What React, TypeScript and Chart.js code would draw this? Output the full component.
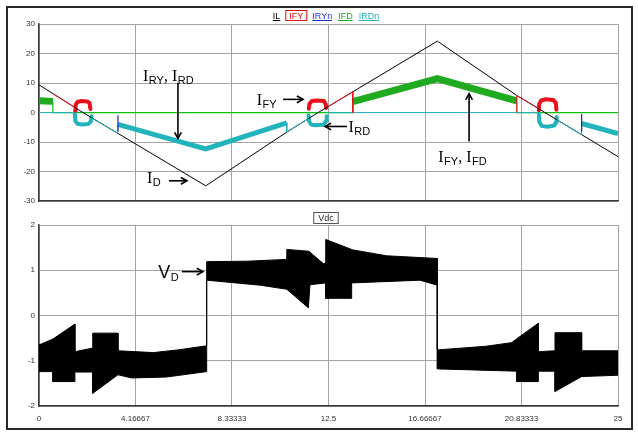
import React, { useEffect, useRef } from "react";
import { Chart, registerables } from "chart.js";
Chart.register(...registerables);

const SANS = "'Liberation Sans', Arial, sans-serif";
const SERIF = "'Liberation Serif', 'Times New Roman', serif";

// ---- axes ----
const xTickVals = [0, 4.16667, 8.33333, 12.5, 16.66667, 20.83333, 25];
const xTickLabels = ["0", "4.16667", "8.33333", "12.5", "16.66667", "20.83333", "25"];
const topYTicks = [-30, -20, -10, 0, 10, 20, 30];
const botYTicks = [-2, -1, 0, 1, 2];

// ---- top panel series: [time, value]; null value = break ----
const IL = [[0, 9.4], [1.9, 0], [3.4, -7.0], [7.2, -24.8], [10.7, -6.6], [12.05, 0], [17.2, 24.2], [20.63, 5.8], [21.85, 0], [25, -14.9]];
const IFY_thin = [[0.6, 6.4], [1.54, 1.8], [1.54, null], [12.45, 1.9], [13.55, 7.0], [13.55, 0], [13.55, null], [20.63, 0], [20.63, 5.8], [21.55, 1.5]];
const IFY_blob1 = [[1.56, 0.6], [1.58, 2.6], [1.66, 3.6], [1.8, 3.9], [2.08, 3.8], [2.18, 3.3], [2.22, 1.2]];
const IFY_blob2 = [[11.65, 1.3], [11.68, 3.0], [11.78, 3.9], [12.0, 4.1], [12.3, 3.9], [12.38, 2.8], [12.4, 1.6]];
const IFY_blob3 = [[21.58, 0.8], [21.6, 3.0], [21.7, 4.2], [21.9, 4.5], [22.2, 4.3], [22.32, 3.2], [22.34, 1.0]];
const IRD_blob1 = [[1.55, -0.5], [1.57, -2.8], [1.66, -3.8], [1.85, -4.0], [2.12, -3.9], [2.24, -3.0], [2.27, -1.2]];
const IRD_blob2 = [[11.64, -0.9], [11.66, -3.0], [11.76, -4.1], [12.0, -4.3], [12.3, -4.0], [12.4, -2.8], [12.42, -1.2]];
const IRD_blob3 = [[21.58, -0.4], [21.6, -3.0], [21.7, -4.5], [21.95, -4.8], [22.25, -4.4], [22.33, -3.2], [22.35, -1.5]];
const IRD_thin = [[0, 0], [1.55, 0], [1.55, null], [2.27, -1.8], [3.4, -7.0], [3.4, -4.0], [3.4, null], [10.7, -3.45], [10.7, -6.6], [11.64, -2.0], [11.64, null], [12.42, 0], [21.58, 0], [21.58, null], [22.35, -2.4], [23.43, -7.5], [23.43, -3.7]];
const IRD_band = [[3.4, -4.0], [7.2, -12.3], [10.7, -3.45], [10.7, null], [23.43, -3.7], [25, -7.1]];
const IFD_band = [[0, 4.0], [0.6, 3.8], [0.6, null], [13.55, 3.7], [17.2, 11.5], [20.63, 4.0]];
const IFD_thin = [[0.6, 3.8], [0.6, 0], [13.55, 0], [13.55, 3.7], [13.55, null], [20.63, 4.0], [20.63, 0], [25, 0]];
const IRY_thin = [[3.41, -0.9], [3.41, -6.4], [3.41, null], [23.43, -0.5], [23.43, -6.5]];

// ---- bottom panel: Vdc envelope ----
const VD_upper = [[0, -0.65], [0.6, -0.52], [1.55, -0.19], [1.55, -0.8], [2.32, -0.72], [2.32, -0.39], [3.41, -0.39], [3.41, -0.78], [4.94, -0.82], [6.0, -0.76], [7.24, -0.67], [7.24, 1.19], [9.0, 1.2], [10.7, 1.24], [10.7, 1.46], [11.65, 1.42], [12.27, 1.15], [12.38, 1.15], [12.38, 1.68], [13.55, 1.45], [15.0, 1.32], [17.2, 1.26], [17.2, -0.76], [19.3, -0.68], [20.4, -0.6], [21.56, -0.17], [21.56, -0.8], [22.28, -0.78], [22.28, -0.38], [23.43, -0.38], [23.43, -0.78], [25, -0.78]];
const VD_lower = [[0, -1.24], [0.6, -1.24], [0.6, -1.46], [1.55, -1.46], [1.55, -1.25], [2.32, -1.25], [2.32, -1.72], [3.41, -1.31], [4.0, -1.38], [5.5, -1.36], [7.24, -1.24], [7.24, 0.78], [9.55, 0.67], [10.7, 0.58], [11.63, 0.17], [11.7, 0.68], [12.38, 0.72], [12.38, 0.38], [13.5, 0.38], [13.5, 0.72], [16.45, 0.78], [17.2, 0.67], [17.2, -1.18], [20.63, -1.23], [20.63, -1.46], [21.56, -1.46], [21.56, -1.23], [22.28, -1.23], [22.28, -1.68], [23.43, -1.35], [25, -1.32]];

// ---- annotations (data coordinates) ----
const topLabels = [
  { t: 4.49, v: 10.77, parts: [["I", "RY", ", "], ["I", "RD", ""]] },
  { t: 4.66, v: -23.9, parts: [["I", "D", ""]] },
  { t: 9.4, v: 2.46, parts: [["I", "FY", ""]] },
  { t: 13.36, v: -6.5, parts: [["I", "RD", ""]] },
  { t: 17.24, v: -16.6, parts: [["I", "FY", ", "], ["I", "FD", ""]] },
];
const topArrows = [
  [6.0, 10.1, 6.0, -8.75],
  [5.61, -23.1, 6.39, -23.1],
  [10.54, 4.48, 11.4, 4.48],
  [13.3, -4.7, 12.35, -4.7],
  [18.57, -9.76, 18.57, 6.4],
];
const botArrows = [[6.17, 0.97, 7.08, 0.97]];

const legendItems = [
  { name: "IL", color: "#000000", box: false },
  { name: "IFY", color: "#e01010", box: true },
  { name: "IRYn", color: "#2233cc", box: false },
  { name: "IFD", color: "#22aa22", box: false },
  { name: "IRDn", color: "#22b3b8", box: false },
];

function toXY(arr: any[]) {
  return arr.map(([x, y]) => ({ x, y }));
}

function ds(arr: any[], color: string, width: number, order: number, extra: any = {}) {
  return {
    data: toXY(arr),
    borderColor: color,
    backgroundColor: color,
    borderWidth: width,
    pointRadius: 0,
    showLine: true,
    fill: false,
    spanGaps: false,
    tension: 0,
    order,
    ...extra,
  };
}

function arrow(ctx: CanvasRenderingContext2D, x1: number, y1: number, x2: number, y2: number) {
  ctx.save();
  ctx.strokeStyle = "#000";
  ctx.lineWidth = 1.6;
  ctx.beginPath();
  ctx.moveTo(x1, y1);
  ctx.lineTo(x2, y2);
  ctx.stroke();
  const a = Math.atan2(y2 - y1, x2 - x1);
  const h = 7;
  ctx.beginPath();
  ctx.moveTo(x2 - h * Math.cos(a - 0.5), y2 - h * Math.sin(a - 0.5));
  ctx.lineTo(x2, y2);
  ctx.lineTo(x2 - h * Math.cos(a + 0.5), y2 - h * Math.sin(a + 0.5));
  ctx.stroke();
  ctx.restore();
}

function subLabel(ctx: CanvasRenderingContext2D, x: number, y: number, parts: any[], mainFont: string, mainSize: number, subSize: number) {
  ctx.save();
  ctx.fillStyle = "#000";
  ctx.textBaseline = "alphabetic";
  ctx.textAlign = "left";
  let cx = x;
  for (const [m, s, tail] of parts) {
    ctx.font = `${mainSize}px ${mainFont}`;
    ctx.fillText(m, cx, y);
    cx += ctx.measureText(m).width + 0.5;
    ctx.font = `${subSize}px ${SANS}`;
    ctx.fillText(s, cx, y + 3);
    cx += ctx.measureText(s).width;
    if (tail) {
      ctx.font = `${mainSize}px ${mainFont}`;
      ctx.fillText(tail, cx, y);
      cx += ctx.measureText(tail).width;
    }
  }
  ctx.restore();
}

const topPlugin = {
  id: "topNotes",
  afterDatasetsDraw(chart: any) {
    const ctx = chart.ctx;
    const xs = chart.scales.x;
    const ys = chart.scales.y;
    for (const l of topLabels) {
      subLabel(ctx, xs.getPixelForValue(l.t), ys.getPixelForValue(l.v), l.parts, SERIF, 16, 11);
    }
    for (const [a, b, c, d] of topArrows) {
      arrow(ctx, xs.getPixelForValue(a), ys.getPixelForValue(b), xs.getPixelForValue(c), ys.getPixelForValue(d));
    }
    // legend
    ctx.save();
    ctx.font = `9px ${SANS}`;
    ctx.textBaseline = "alphabetic";
    const gap = 6;
    const widths = legendItems.map((it) => ctx.measureText(it.name).width);
    const total = widths.reduce((s, w) => s + w, 0) + gap * (legendItems.length - 1) + 6;
    let x = 326 - total / 2;
    const y = 19;
    legendItems.forEach((it, i) => {
      const w = widths[i];
      if (it.box) x += 3;
      ctx.fillStyle = it.color;
      ctx.fillText(it.name, x, y);
      ctx.strokeStyle = it.color;
      ctx.lineWidth = 1;
      if (it.box) {
        ctx.strokeRect(x - 3.5, y - 8.5, w + 7, 10);
        x += 3;
      } else {
        ctx.beginPath();
        ctx.moveTo(x, y + 1.5);
        ctx.lineTo(x + w, y + 1.5);
        ctx.stroke();
      }
      x += w + gap;
    });
    ctx.restore();
  },
};

const botPlugin = {
  id: "botNotes",
  afterDatasetsDraw(chart: any) {
    const ctx = chart.ctx;
    const xs = chart.scales.x;
    const ys = chart.scales.y;
    subLabel(ctx, xs.getPixelForValue(5.15), ys.getPixelForValue(0.82), [["V", "D", ""]], SANS, 18, 11);
    for (const [a, b, c, d] of botArrows) {
      arrow(ctx, xs.getPixelForValue(a), ys.getPixelForValue(b), xs.getPixelForValue(c), ys.getPixelForValue(d));
    }
    // Vdc title box
    ctx.save();
    ctx.font = `9px ${SANS}`;
    ctx.fillStyle = "#222";
    ctx.textAlign = "center";
    ctx.textBaseline = "alphabetic";
    const w = ctx.measureText("Vdc").width;
    ctx.fillText("Vdc", 326, 11);
    ctx.strokeStyle = "#555";
    ctx.lineWidth = 1;
    ctx.strokeRect(326 - w / 2 - 4.5, 2.5, w + 9, 11);
    ctx.restore();
  },
};

function options(yMin: number, yMax: number, yTicks: number[], showX: boolean, pad: any) {
  const grid = { color: "#a4a4a4", lineWidth: 1, drawTicks: false };
  const border = { color: "#3a3a3a", width: 1.5 };
  return {
    responsive: false,
    animation: false,
    devicePixelRatio: 1,
    events: [],
    layout: { padding: pad },
    plugins: { legend: { display: false }, tooltip: { enabled: false }, title: { display: false } },
    scales: {
      x: {
        type: "linear",
        min: 0,
        max: 25,
        afterBuildTicks: (a: any) => {
          a.ticks = xTickVals.map((v) => ({ value: v }));
        },
        afterFit: (a: any) => {
          a.height = showX ? 22 : 0;
        },
        grid,
        border,
        ticks: {
          display: showX,
          padding: 8,
          maxRotation: 0,
          autoSkip: false,
          color: "#333",
          font: { family: SANS, size: 8 },
          callback: (_v: any, i: number) => xTickLabels[i],
        },
      },
      y: {
        type: "linear",
        min: yMin,
        max: yMax,
        afterBuildTicks: (a: any) => {
          a.ticks = yTicks.map((v) => ({ value: v }));
        },
        afterFit: (a: any) => {
          a.width = 39;
        },
        grid,
        border,
        ticks: { padding: 4, color: "#333", font: { family: SANS, size: 8 } },
      },
    },
  };
}

export default function App() {
  const topRef = useRef<HTMLCanvasElement>(null);
  const botRef = useRef<HTMLCanvasElement>(null);

  useEffect(() => {
    const cyan = "#22b3bc";
    const red = "#e81018";
    const green = "#1faa1f";
    const top = new Chart(topRef.current as HTMLCanvasElement, {
      type: "scatter",
      data: {
        datasets: [
          ds(IRY_thin, "#2020d0", 1.2, 1),
          ds(IFY_thin, red, 1, 2),
          ds(IRD_thin, cyan, 1, 3),
          ds(IL, "#000000", 1, 4),
          ds(IFY_blob1, red, 4, 5, { borderJoinStyle: "round", borderCapStyle: "round" }),
          ds(IFY_blob2, red, 4, 5, { borderJoinStyle: "round", borderCapStyle: "round" }),
          ds(IFY_blob3, red, 4, 5, { borderJoinStyle: "round", borderCapStyle: "round" }),
          ds(IRD_blob1, cyan, 4, 6, { borderJoinStyle: "round", borderCapStyle: "round" }),
          ds(IRD_blob2, cyan, 4, 6, { borderJoinStyle: "round", borderCapStyle: "round" }),
          ds(IRD_blob3, cyan, 4, 6, { borderJoinStyle: "round", borderCapStyle: "round" }),
          ds(IRD_band, cyan, 5, 7),
          ds(IFD_band, green, 7, 8),
          ds(IFD_thin, "#10c010", 1.2, 9),
        ],
      },
      options: options(-30, 30, topYTicks, false, { top: 24, right: 20, bottom: 7, left: 0 }) as any,
      plugins: [topPlugin],
    });
    const bot = new Chart(botRef.current as HTMLCanvasElement, {
      type: "scatter",
      data: {
        datasets: [
          ds(VD_upper, "#000000", 1, 1, { fill: "+1", backgroundColor: "#000000" }),
          ds(VD_lower, "#000000", 1, 2),
        ],
      },
      options: options(-2, 2, botYTicks, true, { top: 15, right: 20, bottom: 4, left: 0 }) as any,
      plugins: [botPlugin],
    });
    return () => {
      top.destroy();
      bot.destroy();
    };
  }, []);

  return (
    <div style={{ position: "fixed", left: 0, top: 0, width: 638, height: 432, background: "#fff", overflow: "hidden" }}>
      <div style={{ position: "absolute", left: 6, top: 6, width: 623, height: 420, border: "2px solid #2a2a2a" }} />
      <canvas ref={topRef} width={638} height={210} style={{ position: "absolute", left: 0, top: 0 }} />
      <canvas ref={botRef} width={638} height={222} style={{ position: "absolute", left: 0, top: 210 }} />
    </div>
  );
}
